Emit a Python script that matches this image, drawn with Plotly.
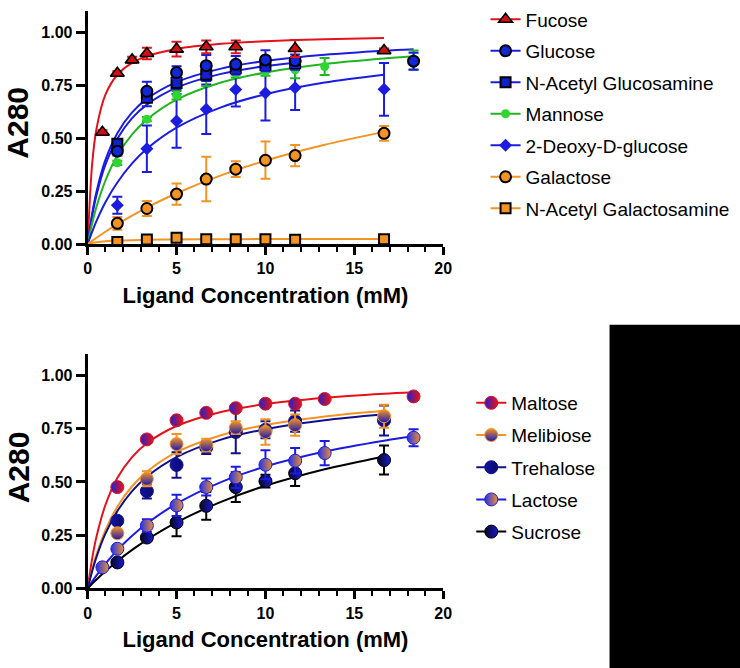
import plotly.graph_objects as go

FONT = "Liberation Sans, Arial, sans-serif"

# ---------------- data: top panel (monosaccharides) ----------------
fucose_x = [0.83, 1.67, 2.5, 3.33, 5, 6.67, 8.33, 11.67, 16.67]
fucose_y = [0.528, 0.807, 0.870, 0.900, 0.921, 0.932, 0.932, 0.924, 0.914]
fucose_err = [0.01, 0.01, 0.015, 0.027, 0.035, 0.03, 0.03, 0.04, 0.01]

glucose_x = [1.67, 3.33, 5, 6.67, 8.33, 10, 11.67, 18.33]
glucose_y = [0.439, 0.722, 0.810, 0.843, 0.849, 0.870, 0.866, 0.864]
glucose_err = [0.02, 0.045, 0.03, 0.05, 0.04, 0.046, 0.03, 0.04]

nag_x = [1.67, 3.33, 5, 6.67, 8.33, 10, 11.67]
nag_y = [0.474, 0.691, 0.761, 0.800, 0.831, 0.846, 0.854]
nag_err = [0.02, 0.04, 0.03, 0.03, 0.03, 0.03, 0.03]

mannose_x = [1.67, 3.33, 5, 6.67, 8.33, 10, 11.67, 13.33, 18.33]
mannose_y = [0.384, 0.590, 0.703, 0.787, 0.807, 0.815, 0.823, 0.839, 0.87]
mannose_err = [0.01, 0.01, 0.02, 0.04, 0.02, 0.02, 0.04, 0.04, 0.045]

deoxy_x = [1.67, 3.33, 5, 6.67, 8.33, 10, 11.67, 16.67]
deoxy_y = [0.183, 0.450, 0.582, 0.637, 0.730, 0.714, 0.738, 0.731]
deoxy_err = [0.04, 0.11, 0.127, 0.117, 0.08, 0.13, 0.105, 0.125]

galactose_x = [1.67, 3.33, 5, 6.67, 8.33, 10, 11.67, 16.67]
galactose_y = [0.098, 0.168, 0.236, 0.307, 0.354, 0.396, 0.418, 0.523]
galactose_err = [0.03, 0.035, 0.05, 0.105, 0.037, 0.088, 0.05, 0.035]

naga_x = [1.67, 3.33, 5, 6.67, 8.33, 10, 11.67, 16.67]
naga_y = [0.010, 0.022, 0.030, 0.023, 0.023, 0.023, 0.020, 0.023]
naga_err = [0.005, 0.005, 0.015, 0.005, 0.005, 0.005, 0.005, 0.005]

# fitted curves
curve_x = [0, 0.25, 0.5, 1, 1.67, 2.5, 3.33, 5, 7.5, 10, 13.33, 16.67]
curve_x_long = [0, 0.25, 0.5, 1, 1.67, 2.5, 3.33, 5, 7.5, 10, 13.33, 16.67, 18.33]
curve_x_short = [0, 0.25, 0.5, 1, 1.67, 2.5, 3.33, 5, 7.5, 10, 11.67]

fucose_fit = [0, 0.376, 0.546, 0.706, 0.800, 0.856, 0.888, 0.922, 0.946, 0.958, 0.968, 0.974]
glucose_fit = [0, 0.142, 0.249, 0.398, 0.524, 0.622, 0.686, 0.765, 0.829, 0.865, 0.894, 0.913, 0.920]
nag_fit = [0, 0.132, 0.232, 0.375, 0.498, 0.595, 0.659, 0.739, 0.804, 0.841, 0.857]
mannose_fit = [0, 0.097, 0.177, 0.300, 0.418, 0.518, 0.588, 0.682, 0.763, 0.811, 0.851, 0.877, 0.887]
deoxy_fit = [0, 0.058, 0.110, 0.198, 0.291, 0.381, 0.450, 0.550, 0.646, 0.708, 0.763, 0.800]
galactose_fit = [0, 0.0151, 0.0299, 0.0581, 0.0938, 0.1347, 0.1724, 0.240, 0.3245, 0.3939, 0.469, 0.530]
naga_fit = [0, 0.0052, 0.0087, 0.013, 0.0163, 0.0186, 0.020, 0.0217, 0.0229, 0.0236, 0.0242, 0.0245]

# ---------------- data: bottom panel (disaccharides) ----------------
maltose_x = [1.67, 3.33, 5, 6.67, 8.33, 10, 11.67, 13.33, 18.33]
maltose_y = [0.476, 0.700, 0.790, 0.825, 0.847, 0.868, 0.868, 0.890, 0.902]
maltose_err = [0.01, 0.01, 0.01, 0.01, 0.01, 0.01, 0.01, 0.01, 0.01]

melibiose_x = [1.67, 3.33, 5, 6.67, 8.33, 10, 11.67, 16.67]
melibiose_y = [0.259, 0.515, 0.678, 0.673, 0.755, 0.735, 0.767, 0.809]
melibiose_err = [0.01, 0.035, 0.047, 0.03, 0.03, 0.06, 0.05, 0.054]

trehalose_x = [1.67, 3.33, 5, 6.67, 8.33, 10, 11.67, 16.67]
trehalose_y = [0.318, 0.457, 0.580, 0.662, 0.735, 0.745, 0.786, 0.789]
trehalose_err = [0.01, 0.035, 0.06, 0.03, 0.1, 0.04, 0.05, 0.07]

lactose_x = [0.83, 1.67, 3.33, 5, 6.67, 8.33, 10, 11.67, 13.33, 18.33]
lactose_y = [0.099, 0.186, 0.295, 0.390, 0.476, 0.522, 0.581, 0.600, 0.636, 0.708]
lactose_err = [0.005, 0.01, 0.03, 0.05, 0.04, 0.05, 0.068, 0.06, 0.057, 0.04]

sucrose_x = [1.67, 3.33, 5, 6.67, 8.33, 10, 11.67, 16.67]
sucrose_y = [0.122, 0.239, 0.310, 0.388, 0.476, 0.504, 0.541, 0.603]
sucrose_err = [0.01, 0.01, 0.065, 0.065, 0.07, 0.03, 0.06, 0.068]

maltose_fit = [0, 0.139, 0.244, 0.392, 0.519, 0.617, 0.682, 0.763, 0.829, 0.866, 0.896, 0.915, 0.922]
melibiose_fit = [0, 0.087, 0.160, 0.274, 0.384, 0.480, 0.548, 0.640, 0.720, 0.768, 0.808, 0.835]
trehalose_fit = [0, 0.080, 0.148, 0.257, 0.363, 0.457, 0.525, 0.617, 0.699, 0.748, 0.790, 0.818]
lactose_fit = [0, 0.0316, 0.0614, 0.1158, 0.1797, 0.2473, 0.3049, 0.398, 0.4995, 0.5725, 0.6429, 0.6942, 0.7148]
sucrose_fit = [0, 0.0213, 0.0417, 0.0804, 0.1279, 0.1808, 0.2283, 0.310, 0.4069, 0.4822, 0.5599, 0.620]

x_tickvals = [0, 5, 10, 15, 20]
y_tickvals = [0, 0.25, 0.5, 0.75, 1.0]
y_title = "A280"
x_title = "Ligand Concentration (mM)"

RED = "#e3121b"
BLUE = "#1c1ce0"
GREEN = "#2fd62f"
GREEN_LINE = "#22b522"
ORANGE = "#f39324"
NAVY = "#10108c"

top_series = [
    ("Fucose", fucose_x, fucose_y, fucose_err, curve_x, fucose_fit, RED,
     dict(symbol="triangle-up", size=12, color="#d40f14", line=dict(color="black", width=1.6))),
    ("Glucose", glucose_x, glucose_y, glucose_err, curve_x_long, glucose_fit, BLUE,
     dict(symbol="circle", size=11, color="#1028d8", line=dict(color="black", width=2))),
    ("N-Acetyl Glucosamine", nag_x, nag_y, nag_err, curve_x_short, nag_fit, BLUE,
     dict(symbol="square", size=10, color="#0c22c8", line=dict(color="black", width=2))),
    ("Mannose", mannose_x, mannose_y, mannose_err, curve_x_long, mannose_fit, GREEN_LINE,
     dict(symbol="circle", size=9, color=GREEN, line=dict(width=0))),
    ("2-Deoxy-D-glucose", deoxy_x, deoxy_y, deoxy_err, curve_x, deoxy_fit, BLUE,
     dict(symbol="diamond", size=10, color=BLUE, line=dict(width=0))),
    ("Galactose", galactose_x, galactose_y, galactose_err, curve_x, galactose_fit, ORANGE,
     dict(symbol="circle", size=11, color=ORANGE, line=dict(color="black", width=2))),
    ("N-Acetyl Galactosamine", naga_x, naga_y, naga_err, curve_x, naga_fit, ORANGE,
     dict(symbol="square", size=10, color=ORANGE, line=dict(color="black", width=2))),
]

bottom_series = [
    ("Maltose", maltose_x, maltose_y, maltose_err, curve_x_long, maltose_fit, RED,
     dict(symbol="circle", size=13, color="#2020d0", line=dict(color=RED, width=1),
          gradient=dict(type="horizontal", color="#ee1010"))),
    ("Melibiose", melibiose_x, melibiose_y, melibiose_err, curve_x, melibiose_fit, ORANGE,
     dict(symbol="circle", size=13, color="#f39324", line=dict(color=ORANGE, width=1),
          gradient=dict(type="vertical", color="#1818b8"))),
    ("Trehalose", trehalose_x, trehalose_y, trehalose_err, curve_x, trehalose_fit, NAVY,
     dict(symbol="circle", size=13, color="#1212a0", line=dict(color=NAVY, width=1),
          gradient=dict(type="horizontal", color="#0a0a70"))),
    ("Lactose", lactose_x, lactose_y, lactose_err, curve_x_long, lactose_fit, BLUE,
     dict(symbol="circle", size=13, color="#2030f0", line=dict(color=BLUE, width=1),
          gradient=dict(type="horizontal", color="#f0902a"))),
    ("Sucrose", sucrose_x, sucrose_y, sucrose_err, curve_x, sucrose_fit, "black",
     dict(symbol="circle", size=13, color="#050520", line=dict(color="black", width=1),
          gradient=dict(type="horizontal", color="#1a1ad0"))),
]

fig = go.Figure()


def add_panel(series, xa, ya, legend_name):
    for (name, x, y, err, cx, cy, lc, mk) in series:
        fig.add_trace(go.Scatter(
            x=cx, y=cy, mode="lines", xaxis=xa, yaxis=ya,
            line=dict(color=lc, width=2, shape="spline", smoothing=0.8),
            showlegend=False, hoverinfo="skip"))
    for (name, x, y, err, cx, cy, lc, mk) in reversed(series):
        fig.add_trace(go.Scatter(
            x=x, y=y, mode="markers", xaxis=xa, yaxis=ya, marker=mk,
            error_y=dict(type="data", array=err, color=lc, thickness=2, width=5),
            showlegend=False, name=name))
    for rank, (name, x, y, err, cx, cy, lc, mk) in enumerate(series):
        fig.add_trace(go.Scatter(
            x=[None], y=[None], mode="lines+markers", xaxis=xa, yaxis=ya,
            marker=mk, line=dict(color=lc, width=2), name=name,
            legend=legend_name, legendgroup=name, legendrank=rank + 1))


add_panel(top_series, "x", "y", "legend")
add_panel(bottom_series, "x2", "y2", "legend2")

tickfont = dict(family=FONT, size=16, color="black", weight="bold")
xtitle = dict(text=x_title,
              font=dict(family=FONT, size=22, color="black", weight="bold"), standoff=12)

xcommon = dict(range=[0, 20], tickvals=x_tickvals, showline=True, linewidth=3,
               linecolor="black", ticks="outside", ticklen=8, tickwidth=2.5,
               tickcolor="black", showgrid=False, zeroline=False, tickfont=tickfont,
               minor=dict(ticks="outside", ticklen=5, tickwidth=2, dtick=1, tick0=0,
                          tickcolor="black", showgrid=False),
               title=xtitle)
ycommon = dict(range=[0, 1.1], tickvals=y_tickvals, tickformat=".2f", showline=True,
               linewidth=3, linecolor="black", ticks="outside", ticklen=9,
               tickwidth=2.5, tickcolor="black", showgrid=False, zeroline=False,
               tickfont=tickfont)

YDOM_TOP = [0.6433, 0.9966]
YDOM_BOT = [0.1208, 0.476]
ytitle_font = dict(family=FONT, size=30, color="black", weight="bold")

fig.update_layout(
    width=750, height=677,
    margin=dict(l=0, r=0, t=0, b=0),
    paper_bgcolor="white", plot_bgcolor="white",
    xaxis=dict(domain=[0.1135, 0.596], anchor="y", **xcommon),
    yaxis=dict(domain=YDOM_TOP, anchor="x", **ycommon),
    xaxis2=dict(domain=[0.1135, 0.596], anchor="y2", **xcommon),
    yaxis2=dict(domain=YDOM_BOT, anchor="x2", **ycommon),
    legend=dict(x=0.6534, xanchor="left", y=1.013, yanchor="top",
                font=dict(family=FONT, size=19, color="black"),
                tracegroupgap=3.8, bgcolor="rgba(0,0,0,0)"),
    legend2=dict(x=0.634, xanchor="left", y=0.431, yanchor="top",
                 font=dict(family=FONT, size=19, color="black"),
                 tracegroupgap=4.5, bgcolor="rgba(0,0,0,0)"),
    annotations=[
        dict(text=y_title, xref="paper", yref="paper", x=14 / 740,
             y=(YDOM_TOP[0] + YDOM_TOP[1]) / 2 + 5 / 668, textangle=-90, showarrow=False,
             xanchor="center", yanchor="middle", font=ytitle_font, borderpad=0),
        dict(text=y_title, xref="paper", yref="paper", x=14 / 740,
             y=(YDOM_BOT[0] + YDOM_BOT[1]) / 2 + 4 / 668, textangle=-90, showarrow=False,
             xanchor="center", yanchor="middle", font=ytitle_font, borderpad=0),
    ],
    shapes=[dict(type="rect", xref="paper", yref="paper", x0=608 / 740, x1=1.0,
                 y0=0, y1=(668 - 320) / 668, fillcolor="black", line=dict(width=0),
                 layer="above")],
    showlegend=True,
)

POST = (
    "document.documentElement.style.margin='0';"
    "document.body.style.margin='0';"
    "document.documentElement.style.overflow='hidden';"
    "document.body.style.overflow='hidden';"
)

fig.write_html("out.html", config={"displayModeBar": False}, post_script=POST)
